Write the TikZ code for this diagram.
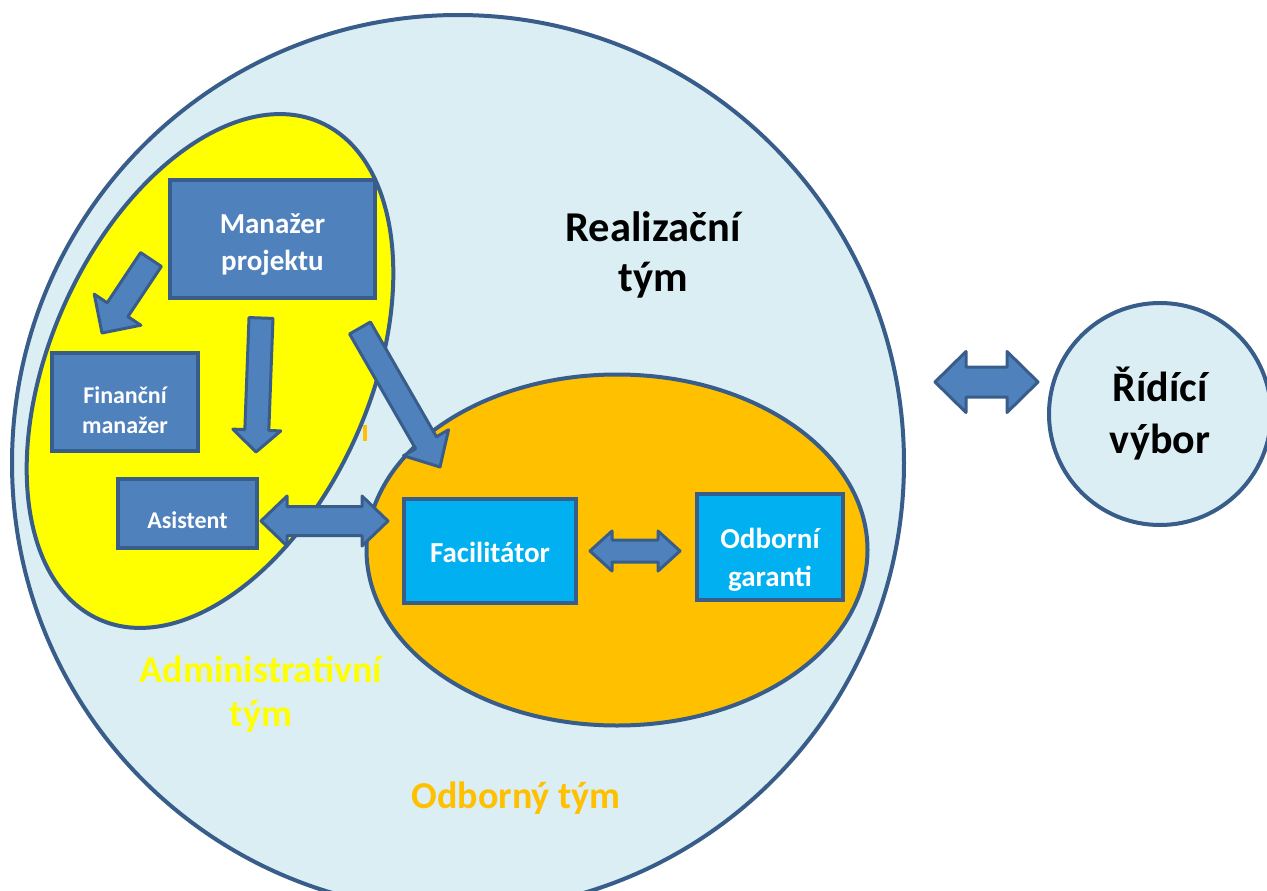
\documentclass[tikz,border=0pt]{standalone}
\usepackage{fontspec}
\setmainfont{Carlito}
\usetikzlibrary{calc,shapes.geometric,positioning}

\definecolor{lineBlue}{RGB}{56,93,138}
\definecolor{boxBlue}{RGB}{79,129,189}
\definecolor{teamBlue}{RGB}{219,238,244}
\definecolor{admYellow}{RGB}{255,255,0}
\definecolor{odbOrange}{RGB}{255,192,0}
\definecolor{facCyan}{RGB}{0,176,240}

\tikzset{
  team/.style={ellipse, draw=lineBlue, line width=4pt, inner sep=0pt, outer sep=0pt, align=center},
  rolebox/.style={rectangle, draw=lineBlue, line width=3.5pt, fill=boxBlue,
    inner sep=0pt, outer sep=0pt},
  roletext/.style={text=white, align=center, inner sep=0pt},
  blockarr/.style={draw=lineBlue, line width=3pt, fill=boxBlue, line join=round},
}

% tail, tip, half shaft, half head, head length
\newcommand{\blockarrow}[5]{%
  \coordinate (baBase) at ($(#2)!#5!(#1)$);
  \draw[blockarr] ($(#1)!#3!90:(#2)$) -- ($(baBase)!#3!90:(#2)$) -- ($(baBase)!#4!90:(#2)$)
    -- (#2) -- ($(baBase)!#4!-90:(#2)$) -- ($(baBase)!#3!-90:(#2)$) -- ($(#1)!#3!-90:(#2)$) -- cycle;}
% both ends, half shaft, half head, head length
\newcommand{\twowayarrow}[5]{%
  \coordinate (taA) at ($(#1)!#5!(#2)$);
  \coordinate (taB) at ($(#2)!#5!(#1)$);
  \draw[blockarr] (#1) -- ($(taA)!#4!90:(#2)$) -- ($(taA)!#3!90:(#2)$) -- ($(taB)!#3!90:(#2)$)
    -- ($(taB)!#4!90:(#2)$) -- (#2) -- ($(taB)!#4!-90:(#2)$) -- ($(taB)!#3!-90:(#2)$)
    -- ($(taA)!#3!-90:(#2)$) -- ($(taA)!#4!-90:(#2)$) -- cycle;}

\begin{document}
\begin{tikzpicture}[x=1pt, y=-1pt]
  \useasboundingbox (0,0) rectangle (1267,891);
  \clip (0,0) rectangle (1267,891);

  % teams
  \node[team, fill=teamBlue, minimum width=892pt, minimum height=896pt] (realiz) at (458,463) {};
  \node[team, fill=admYellow, minimum width=544pt, minimum height=320pt, rotate=66] (admin) at (210,371) {};
  \node[team, fill=odbOrange, minimum width=501pt, minimum height=351pt] (odbor) at (617,550) {};
  \node[team, fill=teamBlue, minimum size=222pt, font=\fontsize{42}{52}\selectfont\bfseries]
    (ridici) at (1160,414) {Řídící\\výbor};
  \fill[odbOrange] (363,425) rectangle (367,441);

  \node[align=center, font=\fontsize{42.5}{50}\selectfont\bfseries] (realizLbl) at (653,255) {Realizační\\tým};
  \node[align=center, text=admYellow, font=\fontsize{38}{44}\selectfont\bfseries] (adminLbl) at (261,694) {Administrativní\\tým};
  \node[text=odbOrange, font=\fontsize{38}{44}\selectfont\bfseries] (odborLbl) at (516,798) {Odborný tým};

  % roles
  \node[rolebox, minimum width=205pt, minimum height=118pt,
    label={[roletext, yshift=-6pt, font=\fontsize{29}{37}\selectfont\bfseries]center:Manažer\\projektu}]
    (mgr) at (272.5,239) {};
  \node[rolebox, minimum width=146pt, minimum height=98pt,
    label={[roletext, yshift=-8pt, font=\fontsize{24}{30}\selectfont\bfseries]center:Finanční\\manažer}]
    (fin) at (125,402) {};
  \node[rolebox, minimum width=139pt, minimum height=69pt,
    label={[roletext, yshift=-7pt, font=\fontsize{24}{28}\selectfont\bfseries]center:Asistent}]
    (asist) at (187.5,513.5) {};
  \node[rolebox, fill=facCyan, minimum width=172pt, minimum height=104pt,
    label={[roletext, yshift=-1pt, font=\fontsize{29}{37}\selectfont\bfseries]center:Facilitátor}]
    (facil) at (490,551) {};
  \node[rolebox, fill=facCyan, minimum width=146pt, minimum height=106pt,
    label={[roletext, yshift=-13pt, font=\fontsize{29}{38}\selectfont\bfseries]center:Odborní\\garanti}]
    (garant) at (770,547) {};

  % arrows
  \coordinate (mgrFinTail) at ($(mgr.south west)+(-19,-38.5)$);
  \coordinate (mgrFinTip) at ($(fin.north)+(-23,-20)$);
  \coordinate (mgrAsTail) at ($(mgr.south)+(-11.5,20)$);
  \coordinate (mgrAsTip) at ($(asist.north east)+(-1,-27)$);
  \coordinate (mgrFacTail) at ($(mgr.south east)+(-15,30)$);
  \coordinate (mgrFacTip) at ($(facil.north west)+(36,-32)$);
  \coordinate (asFacL) at ($(asist.east)+(4,7.5)$);
  \coordinate (asFacR) at ($(facil.west)+(-16,-30)$);
  \coordinate (facGarL) at ($(facil.east)+(14,0)$);
  \coordinate (facGarR) at ($(garant.west)+(-17,4)$);
  \coordinate (realRidL) at ($(realiz.east)+(31,-81)$);
  \coordinate (realRidR) at ($(ridici.west)+(-11,-32)$);

  \blockarrow{mgrFinTail}{mgrFinTip}{12.5pt}{28pt}{28pt}
  \blockarrow{mgrAsTail}{mgrAsTip}{12pt}{24pt}{22pt}
  \blockarrow{mgrFacTail}{mgrFacTip}{12pt}{26pt}{28pt}
  \twowayarrow{asFacL}{asFacR}{14.5pt}{25pt}{26pt}
  \twowayarrow{facGarL}{facGarR}{11pt}{20pt}{22pt}
  \twowayarrow{realRidL}{realRidR}{15pt}{30.5pt}{31pt}
\end{tikzpicture}
\end{document}
